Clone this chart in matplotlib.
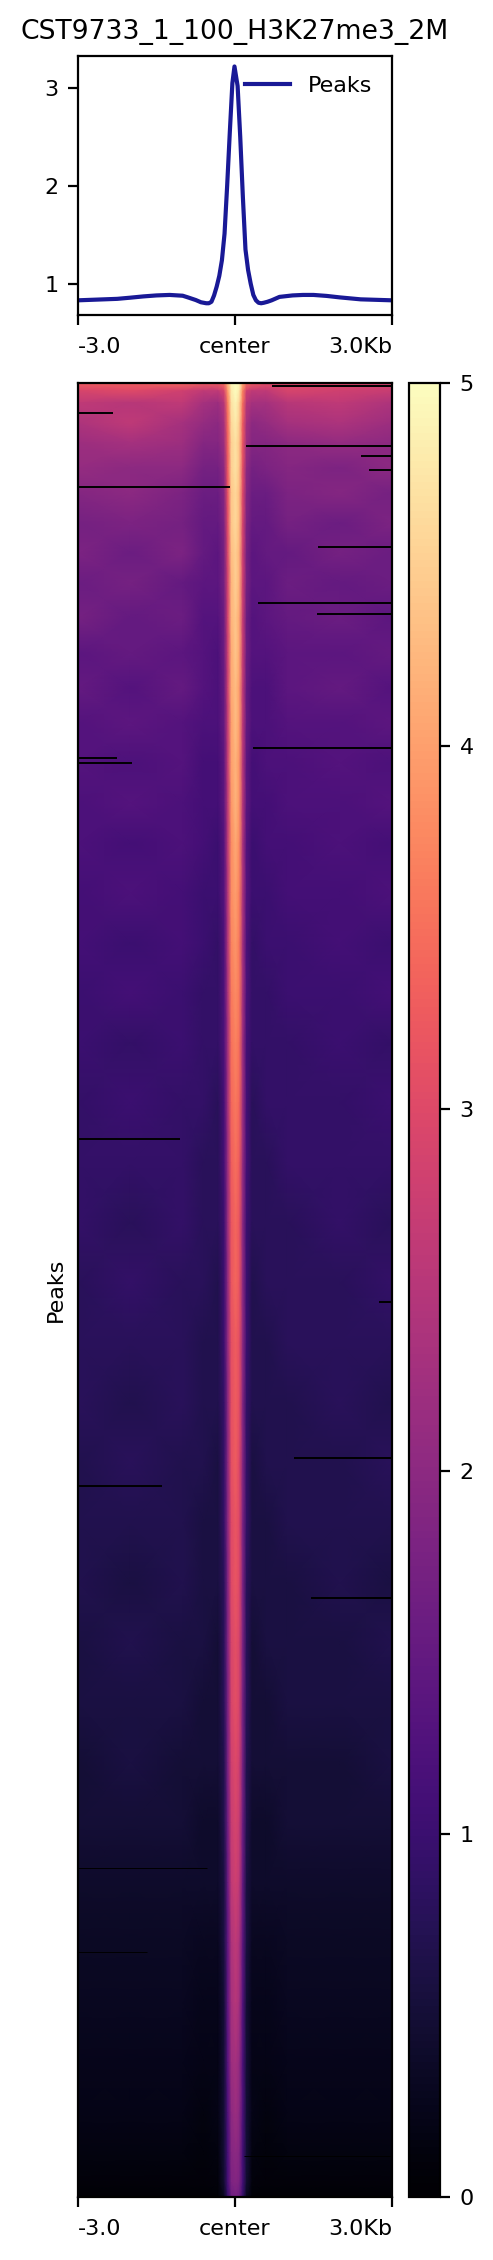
import matplotlib
matplotlib.use('Agg')
import numpy as np
import matplotlib.pyplot as plt

W, H = 493, 2260

# profile
profile_x = [-3.0, -2.5, -2.25, -2.0, -1.75, -1.5, -1.25, -1.0, -0.9, -0.75, -0.65, -0.55, -0.5, -0.45, -0.4, -0.35,
             -0.3, -0.25, -0.2, -0.15, -0.1, -0.05, -0.01, 0.05, 0.1, 0.15, 0.2, 0.25, 0.3, 0.35, 0.4, 0.45,
             0.5, 0.55, 0.62, 0.7, 0.85, 1.1, 1.3, 1.5, 1.75, 2.0, 2.2, 2.4, 2.7, 3.0]
profile_y = [0.83, 0.84, 0.845, 0.857, 0.87, 0.88, 0.885, 0.877, 0.86, 0.833, 0.81, 0.80, 0.80, 0.815, 0.88, 0.97,
             1.08, 1.24, 1.51, 2.0, 2.54, 3.05, 3.22, 3.02, 2.5, 1.89, 1.35, 1.14, 1.0, 0.885, 0.83, 0.805,
             0.80, 0.805, 0.815, 0.83, 0.865, 0.88, 0.885, 0.885, 0.875, 0.86, 0.85, 0.84, 0.835, 0.83]

col_kb = [-3, -2, -1, -0.6, -0.32, -0.21, -0.14, -0.07, 0.01, 0.08, 0.15, 0.22, 0.33, 0.6, 1, 2, 3]
row_rank = [0, 8, 20, 40, 60, 85, 110, 140, 170, 200, 235, 270, 305, 340, 380, 420, 460, 510, 560, 610, 660,
            720, 780, 840, 900, 960, 1020, 1080, 1140, 1200, 1260, 1320, 1380, 1440, 1500, 1560, 1620, 1680,
            1730, 1770, 1800, 1814]
heat = [
    [3.3, 3.3, 3.4, 3.3, 3.3, 3.5, 4.2, 4.9, 5.0, 4.9, 4.1, 3.5, 3.3, 3.1, 3.0, 3.0, 2.9],
    [2.9, 3.0, 2.8, 2.6, 2.6, 2.9, 3.9, 4.8, 5.0, 4.8, 3.7, 2.8, 2.6, 2.6, 2.9, 2.8, 2.7],
    [2.6, 2.5, 2.6, 2.3, 2.2, 2.5, 3.6, 4.7, 4.9, 4.6, 3.5, 2.5, 2.3, 2.3, 2.5, 2.6, 2.4],
    [2.4, 2.6, 2.3, 2.1, 2.0, 2.3, 3.4, 4.6, 4.8, 4.5, 3.3, 2.3, 2.0, 2.1, 2.3, 2.4, 2.2],
    [2.2, 2.3, 2.2, 1.9, 1.9, 2.2, 3.3, 4.5, 4.7, 4.4, 3.2, 2.2, 1.9, 1.9, 2.0, 2.1, 2.0],
    [2.1, 2.0, 2.0, 1.7, 1.7, 2.0, 3.2, 4.5, 4.7, 4.4, 3.1, 2.0, 1.7, 1.8, 1.9, 1.8, 2.0],
    [1.9, 2.0, 1.8, 1.6, 1.6, 1.9, 3.1, 4.4, 4.6, 4.3, 3.0, 1.9, 1.6, 1.6, 1.8, 1.9, 1.7],
    [1.7, 1.8, 1.7, 1.5, 1.5, 1.8, 3.0, 4.4, 4.6, 4.3, 2.9, 1.8, 1.5, 1.5, 1.7, 1.6, 1.8],
    [1.8, 1.6, 1.8, 1.5, 1.4, 1.7, 2.9, 4.3, 4.5, 4.2, 2.8, 1.7, 1.4, 1.5, 1.5, 1.7, 1.6],
    [1.6, 1.7, 1.5, 1.4, 1.4, 1.7, 2.8, 4.2, 4.5, 4.2, 2.8, 1.7, 1.4, 1.4, 1.6, 1.5, 1.6],
    [1.7, 1.5, 1.6, 1.3, 1.3, 1.6, 2.8, 4.2, 4.4, 4.1, 2.7, 1.6, 1.3, 1.4, 1.5, 1.6, 1.4],
    [1.4, 1.5, 1.4, 1.3, 1.2, 1.6, 2.7, 4.1, 4.4, 4.1, 2.7, 1.6, 1.3, 1.3, 1.4, 1.4, 1.5],
    [1.5, 1.3, 1.5, 1.3, 1.2, 1.5, 2.7, 4.1, 4.3, 4.0, 2.6, 1.5, 1.2, 1.2, 1.4, 1.5, 1.3],
    [1.3, 1.4, 1.3, 1.2, 1.2, 1.5, 2.6, 4.0, 4.3, 4.0, 2.6, 1.5, 1.2, 1.2, 1.3, 1.3, 1.4],
    [1.3, 1.2, 1.3, 1.1, 1.1, 1.4, 2.6, 4.0, 4.2, 3.9, 2.5, 1.4, 1.1, 1.2, 1.2, 1.3, 1.2],
    [1.2, 1.3, 1.2, 1.1, 1.1, 1.4, 2.5, 3.9, 4.2, 3.9, 2.5, 1.4, 1.1, 1.1, 1.2, 1.2, 1.3],
    [1.2, 1.1, 1.2, 1.1, 1.0, 1.3, 2.5, 3.8, 4.1, 3.8, 2.4, 1.3, 1.0, 1.1, 1.1, 1.2, 1.1],
    [1.1, 1.2, 1.1, 1.0, 1.0, 1.3, 2.4, 3.8, 4.0, 3.7, 2.4, 1.3, 1.0, 1.0, 1.1, 1.1, 1.2],
    [1.1, 1.0, 1.1, 1.0, 0.9, 1.2, 2.4, 3.7, 3.9, 3.6, 2.3, 1.2, 0.9, 1.0, 1.0, 1.1, 1.0],
    [1.0, 1.1, 1.0, 0.9, 0.9, 1.2, 2.3, 3.6, 3.8, 3.6, 2.3, 1.2, 0.9, 0.9, 1.0, 1.0, 1.1],
    [1.0, 0.9, 1.0, 0.9, 0.9, 1.2, 2.2, 3.5, 3.7, 3.5, 2.2, 1.1, 0.9, 0.9, 0.9, 1.0, 0.9],
    [0.9, 1.0, 0.9, 0.9, 0.8, 1.1, 2.2, 3.4, 3.6, 3.4, 2.2, 1.1, 0.8, 0.9, 0.9, 0.9, 1.0],
    [0.9, 0.9, 0.9, 0.8, 0.8, 1.1, 2.1, 3.3, 3.5, 3.3, 2.1, 1.1, 0.8, 0.8, 0.9, 0.9, 0.9],
    [0.9, 0.8, 0.9, 0.8, 0.8, 1.0, 2.1, 3.2, 3.4, 3.2, 2.0, 1.0, 0.8, 0.8, 0.8, 0.9, 0.8],
    [0.8, 0.9, 0.8, 0.8, 0.7, 1.0, 2.0, 3.2, 3.4, 3.2, 2.0, 1.0, 0.7, 0.8, 0.8, 0.8, 0.9],
    [0.8, 0.8, 0.8, 0.7, 0.7, 1.0, 2.0, 3.1, 3.3, 3.1, 2.0, 1.0, 0.7, 0.7, 0.8, 0.8, 0.8],
    [0.8, 0.7, 0.8, 0.7, 0.7, 0.9, 1.9, 3.1, 3.3, 3.1, 1.9, 0.9, 0.7, 0.7, 0.7, 0.8, 0.7],
    [0.7, 0.8, 0.7, 0.7, 0.6, 0.9, 1.9, 3.1, 3.3, 3.0, 1.9, 0.9, 0.6, 0.7, 0.7, 0.7, 0.8],
    [0.7, 0.7, 0.7, 0.6, 0.6, 0.9, 1.9, 3.0, 3.2, 3.0, 1.8, 0.9, 0.6, 0.6, 0.7, 0.7, 0.7],
    [0.7, 0.6, 0.7, 0.6, 0.6, 0.8, 1.8, 3.0, 3.2, 3.0, 1.8, 0.8, 0.6, 0.6, 0.6, 0.7, 0.6],
    [0.6, 0.7, 0.6, 0.6, 0.5, 0.8, 1.8, 2.9, 3.1, 2.9, 1.8, 0.8, 0.5, 0.6, 0.6, 0.6, 0.7],
    [0.6, 0.6, 0.6, 0.5, 0.5, 0.8, 1.7, 2.9, 3.1, 2.9, 1.7, 0.8, 0.5, 0.5, 0.6, 0.6, 0.6],
    [0.5, 0.6, 0.5, 0.5, 0.5, 0.7, 1.7, 2.8, 3.0, 2.8, 1.7, 0.7, 0.5, 0.5, 0.5, 0.5, 0.6],
    [0.5, 0.5, 0.5, 0.4, 0.4, 0.7, 1.6, 2.7, 2.9, 2.7, 1.6, 0.7, 0.4, 0.4, 0.5, 0.5, 0.5],
    [0.4, 0.4, 0.4, 0.4, 0.4, 0.6, 1.5, 2.6, 2.8, 2.6, 1.5, 0.6, 0.4, 0.4, 0.4, 0.4, 0.4],
    [0.35, 0.35, 0.35, 0.3, 0.3, 0.6, 1.4, 2.4, 2.6, 2.4, 1.4, 0.6, 0.3, 0.3, 0.35, 0.35, 0.35],
    [0.3, 0.3, 0.3, 0.25, 0.25, 0.5, 1.4, 2.3, 2.5, 2.3, 1.3, 0.5, 0.25, 0.25, 0.3, 0.3, 0.3],
    [0.25, 0.25, 0.25, 0.2, 0.2, 0.5, 1.3, 2.2, 2.3, 2.1, 1.2, 0.5, 0.2, 0.2, 0.25, 0.25, 0.25],
    [0.2, 0.2, 0.2, 0.15, 0.2, 0.5, 1.2, 2.0, 2.2, 2.0, 1.2, 0.5, 0.2, 0.15, 0.2, 0.2, 0.2],
    [0.15, 0.15, 0.15, 0.1, 0.15, 0.5, 1.1, 1.9, 2.0, 1.9, 1.1, 0.5, 0.15, 0.1, 0.15, 0.15, 0.15],
    [0.08, 0.08, 0.08, 0.08, 0.1, 0.45, 1.1, 1.8, 1.9, 1.8, 1.1, 0.45, 0.1, 0.08, 0.08, 0.08, 0.08],
    [0.03, 0.03, 0.03, 0.03, 0.05, 0.3, 0.9, 1.6, 1.7, 1.6, 0.9, 0.3, 0.05, 0.03, 0.03, 0.03, 0.03],
]

# empty (all NaN) rows that show as black lines
gap_rows = [3, 30, 63, 73, 87, 104, 164, 220, 231, 365, 375, 380, 756, 919, 1075, 1103, 1215]
gap_start = [0.707, -3, 0.21, 2.41, 2.56, -3, 1.586, 0.44, 1.567, 0.344, -3, -3, -3, 2.75, 1.127, -3, 1.452]
gap_end = [3, -2.33, 3, 3, 3, -0.096, 3, 3, 3, 3, -2.255, -1.968, -1.05, 3, 3, -1.395, 3]
# fainter ones lower down
thin_rows = [1485, 1569, 1773]
thin_start = [-3, -3, 0.172]
thin_end = [-0.535, -1.68, 3]

tick_pos = [-3, 0, 3]
tick_labels = ['-3.0', 'center', '3.0Kb']
cbar_ticks = [0, 1, 2, 3, 4, 5]

plt.rcParams['font.size'] = 8
fig = plt.figure(figsize=(W / 200, H / 200), dpi=200)


def box(x0, y0, x1, y1):
    # pixel box, y from the top
    return [x0 / W, 1 - y1 / H, (x1 - x0) / W, (y1 - y0) / H]


def set_x(ax):
    ax.set_xlim(-3, 3)
    ax.set_xticks(tick_pos)
    ax.set_xticklabels(tick_labels)
    labs = ax.get_xticklabels()
    labs[0].set_ha('left')
    labs[-1].set_ha('right')
    ax.tick_params(axis='x', pad=4.5)


# top panel
ax = fig.add_axes(box(78, 56, 392, 314.7))
ax.plot(profile_x, profile_y, color='darkblue', alpha=0.9, lw=1.5, label='Peaks')
ax.set_ylim(0.683, 3.327)
ax.set_yticks([1, 2, 3])
set_x(ax)
ax.legend(loc='upper right', frameon=False, fontsize=8)
ax.set_title('CST9733_1_100_H3K27me3_2M', fontsize=9.6, pad=6)

# heatmap
ax2 = fig.add_axes(box(78, 383, 392, 2197))
mesh = ax2.pcolormesh(col_kb, row_rank, np.array(heat), cmap='magma', vmin=0, vmax=5, shading='gouraud')
ax2.hlines(gap_rows, gap_start, gap_end, color='black', lw=0.7)
ax2.hlines(thin_rows, thin_start, thin_end, color='black', lw=0.35)
ax2.set_ylim(1814, 0)
ax2.set_yticks([])
ax2.set_ylabel('Peaks', labelpad=4.5)
set_x(ax2)

# colorbar
cax = fig.add_axes(box(409, 383, 440, 2197))
cb = fig.colorbar(mesh, cax=cax)
cb.set_ticks(cbar_ticks)

fig.savefig('out.png', dpi=200)
